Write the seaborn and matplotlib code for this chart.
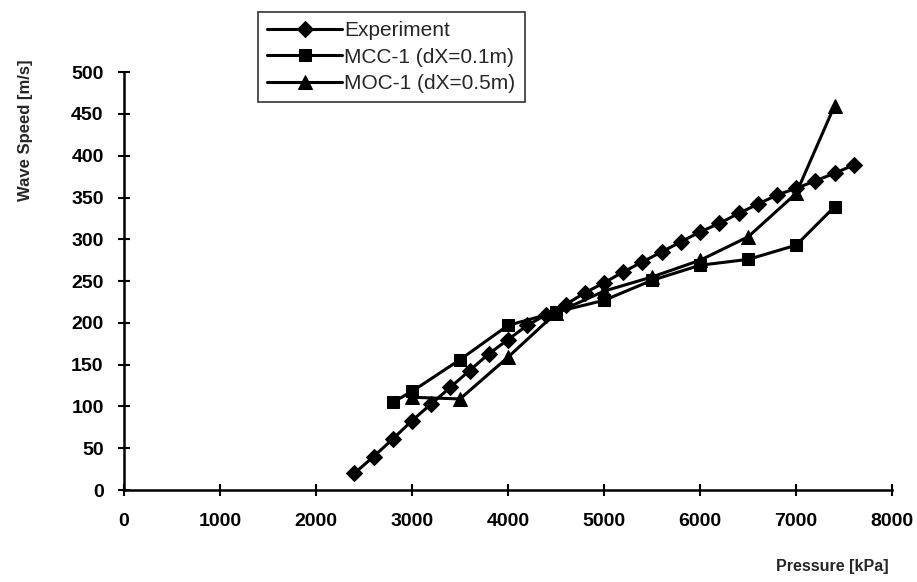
import numpy as np
import pandas as pd
import matplotlib
matplotlib.use("Agg")
import matplotlib.pyplot as plt
import seaborn as sns

# Experiment (diamonds)
exp_pressure = [2400, 2600, 2800, 3000, 3200, 3400, 3600, 3800, 4000, 4200,
                4400, 4600, 4800, 5000, 5200, 5400, 5600, 5800, 6000, 6200,
                6400, 6600, 6800, 7000, 7200, 7400, 7600]
exp_speed = [20, 40, 61, 83, 103, 123, 143, 163, 180, 197,
             210, 222, 236, 248, 261, 273, 285, 297, 309, 319,
             331, 342, 353, 361, 370, 379, 389]

# MCC-1 (dX=0.1m) (squares)
mcc_pressure = [2800, 3000, 3500, 4000, 4500, 5000, 5500, 6000, 6500, 7000, 7400]
mcc_speed = [105, 118, 156, 197, 213, 227, 251, 269, 276, 293, 339]

# MOC-1 (dX=0.5m) (triangles)
moc_pressure = [3000, 3500, 4000, 4500, 5000, 5500, 6000, 6500, 7000, 7400]
moc_speed = [111, 109, 159, 212, 238, 255, 275, 303, 355, 460]

sns.set_theme(style="white")
plt.rcParams["font.family"] = ["Liberation Sans", "DejaVu Sans"]

fig = plt.figure(figsize=(9.17, 5.82), dpi=100)
ax = fig.add_axes([0.135, 0.158, 0.838, 0.718])

series = [
    ("Experiment", exp_pressure, exp_speed, "D", 8),
    ("MCC-1 (dX=0.1m)", mcc_pressure, mcc_speed, "s", 9),
    ("MOC-1 (dX=0.5m)", moc_pressure, moc_speed, "^", 10),
]
for name, xs, ys, mk, ms in series:
    df = pd.DataFrame({"p": xs, "v": ys})
    sns.lineplot(data=df, x="p", y="v", ax=ax, color="black", lw=2.2,
                 marker=mk, markersize=ms, markeredgecolor="black",
                 markerfacecolor="black", label=name, sort=False)

ax.set_xlim(0, 8000)
ax.set_ylim(0, 500)
ax.set_xticks(np.arange(0, 8001, 1000))
ax.set_yticks(np.arange(0, 501, 50))
for s in ["top", "right"]:
    ax.spines[s].set_visible(False)
for s in ["left", "bottom"]:
    ax.spines[s].set_color("black")
    ax.spines[s].set_linewidth(1.8)
ax.tick_params(axis="both", direction="inout", length=9, width=1.5,
               colors="black", labelsize=14, bottom=True, left=True)
ax.tick_params(axis="x", pad=12)
ax.tick_params(axis="y", pad=10)
for t in ax.get_xticklabels() + ax.get_yticklabels():
    t.set_fontweight("bold")

ax.set_xlabel("Pressure [kPa]", fontsize=11.5, fontweight="bold")
ax.set_ylabel("Wave Speed [m/s]", fontsize=12, fontweight="bold")
ax.xaxis.set_label_coords(0.922, -0.165)
ax.yaxis.set_label_coords(-0.118, 0.86)

leg = ax.legend(loc="upper left", bbox_to_anchor=(258 / 917, 1 - 12 / 582),
                bbox_transform=fig.transFigure, frameon=True, fancybox=False,
                edgecolor="black", fontsize=15, handlelength=3.6,
                handletextpad=0.1, labelspacing=0.35, borderpad=0.45,
                borderaxespad=0)
leg.get_frame().set_linewidth(1.2)

fig.savefig("out.png", dpi=100, facecolor="white")
